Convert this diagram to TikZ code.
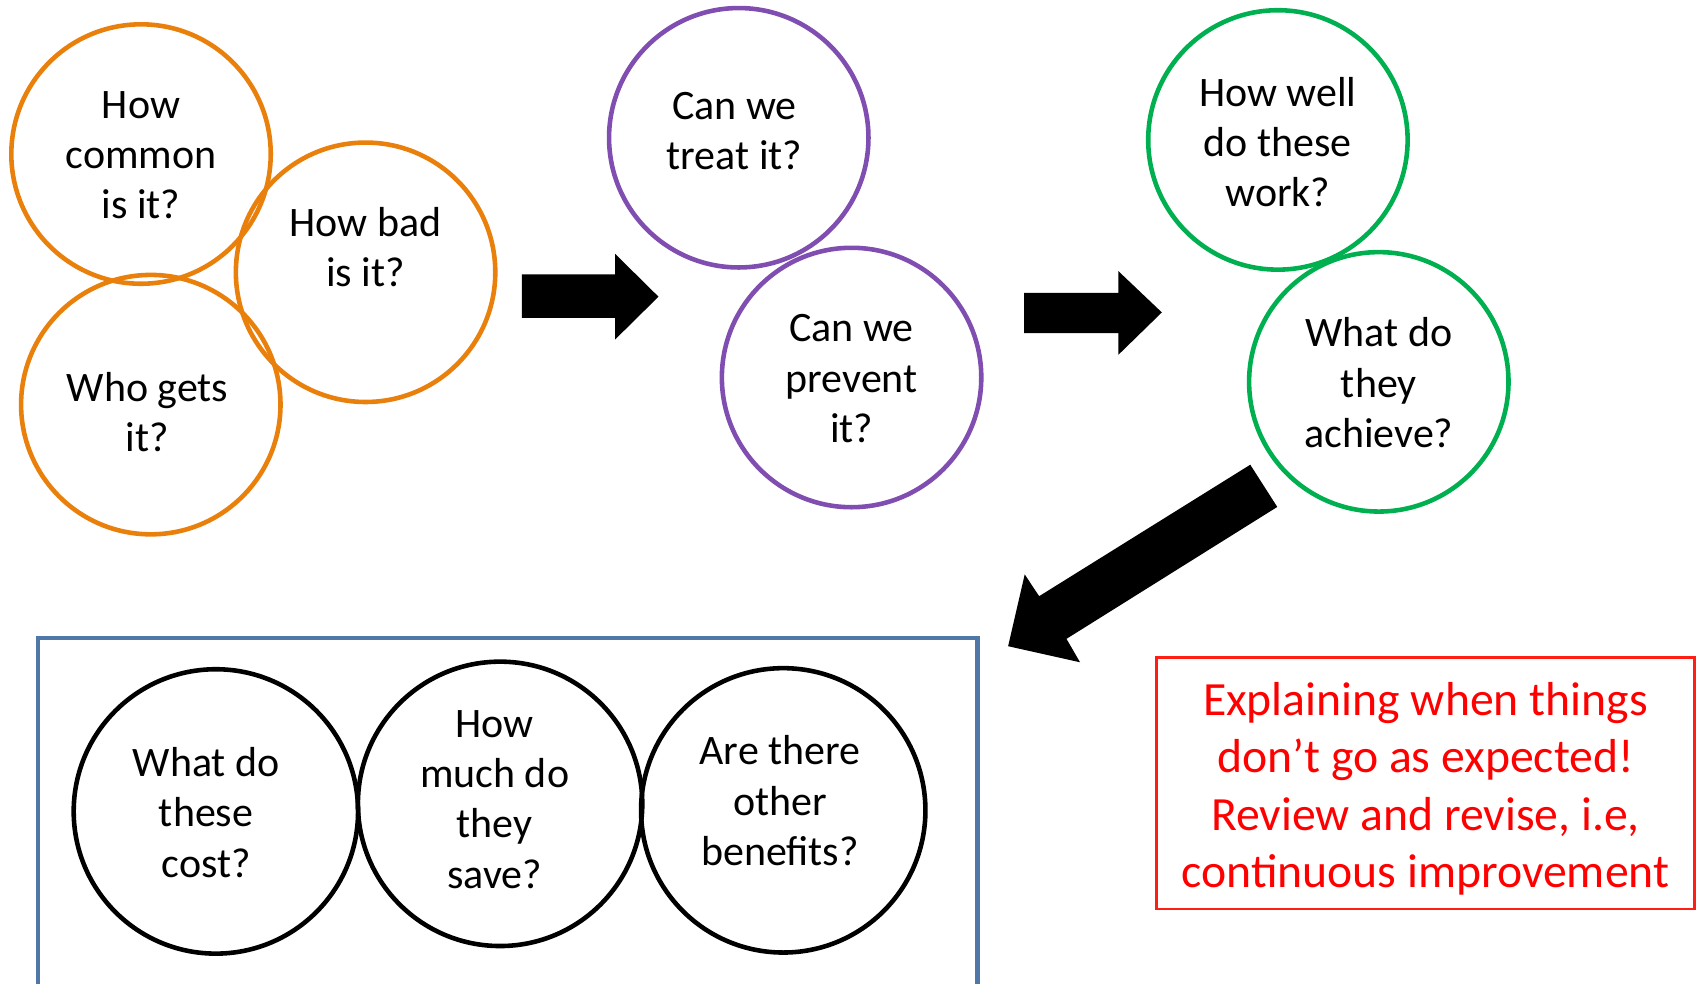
\documentclass[tikz,border=0pt]{standalone}
\usepackage{fontspec}
\setmainfont{Carlito}
\definecolor{qorange}{RGB}{234,128,12}
\definecolor{qpurple}{RGB}{128,78,176}
\definecolor{qgreen}{RGB}{0,176,80}
\definecolor{qblue}{RGB}{79,120,168}
\definecolor{qred}{RGB}{255,30,20}
\begin{document}
\begin{tikzpicture}[x=0.01cm,y=-0.01cm,
  qcirc/.style={circle, draw=#1, line width=1.2pt, minimum size=2.39cm, inner sep=0pt},
  bcirc/.style={circle, draw=black, line width=1.2pt, minimum size=2.62cm, inner sep=0pt},
  qtext/.style={align=center, inner sep=0pt, font=\fontsize{11}{13.2}\selectfont},
  notebox/.style={draw=qred, line width=0.65pt, minimum width=4.96cm, minimum height=2.32cm, inner sep=0pt},
  notetext/.style={inner sep=0pt, align=center, text=red, font=\fontsize{12.5}{15.05}\selectfont},
  blockarrow/.style={fill=black, draw=none}
]
\useasboundingbox (0,0) rectangle (1568,907);

% orange group
\node[qcirc=qorange] (c1) at (130,142) {};
\node[qcirc=qorange] (c2) at (337,251) {};
\node[qcirc=qorange] (c3) at (139,373) {};
\node[qtext] (t1) at (130,143) {How\\common\\is it?};
\node[qtext] (t2) at (337,228) {How bad\\is it?};
\node[qtext] (t3) at (136,380) {Who gets\\it?};

% purple group
\node[qcirc=qpurple] (c4) at (681,127) {};
\node[qcirc=qpurple] (c5) at (785,348) {};
\node[qtext] (t4) at (677,121) {Can we\\treat it?};
\node[qtext] (t5) at (785,349) {Can we\\prevent\\it?};

% green group
\node[qcirc=qgreen] (c6) at (1178,129) {};
\node[qcirc=qgreen] (c7) at (1271,352) {};
\node[qtext] (t6) at (1178,131) {How well\\do these\\work?};
\node[qtext] (t7) at (1271,353) {What do\\they\\achieve?};

% block arrows
\fill[blockarrow] (481,253) -- (567,253) -- (567,234) -- (607,273.5) -- (567,313) -- (567,293) -- (481,293) -- cycle;
\fill[blockarrow] (944,270) -- (1031,270) -- (1031,250) -- (1071,288) -- (1031,327) -- (1031,307) -- (944,307) -- cycle;
\fill[blockarrow] (1152.5,428.4) -- (1177.4,467.3) -- (983.1,588.9) -- (995.6,610.5) -- (929.3,595.7) -- (944.6,529.5) -- (957.9,549.6) -- cycle;

% bottom frame
\draw[draw=qblue, line width=1.1pt] (35,915) -- (35,588) -- (901,588) -- (901,915);
\node[bcirc] (b1) at (199,748) {};
\node[bcirc] (b2) at (461,741) {};
\node[bcirc] (b3) at (722,747) {};
\node[qtext] (t8) at (190,749) {What do\\these\\cost?};
\node[qtext] (t9) at (456,737) {How\\much do\\they\\save?};
\node[qtext] (t10) at (719,738) {Are there\\other\\benefits?};

% note
\node[notebox] (note) at (1314,722) {};
\node[notetext] (notet) at (1314,727) {Explaining when things\\don’t go as expected!\\Review and revise, i.e,\\continuous improvement};
\end{tikzpicture}
\end{document}
